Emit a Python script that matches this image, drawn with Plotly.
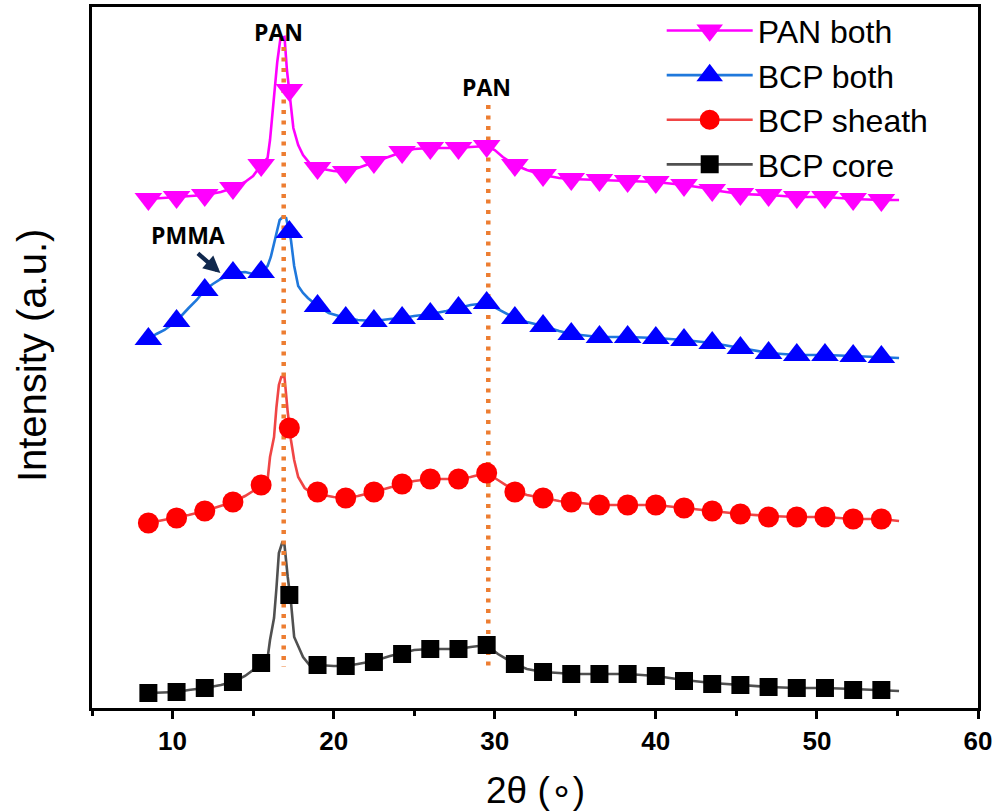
import plotly.graph_objects as go

# ---------------- data (2θ in degrees, intensity in arbitrary units) ----------------
marker_x = [8.5, 10.25, 12.0, 13.75, 15.5, 17.25, 19.0, 20.75, 22.5, 24.25, 26.0, 27.75,
            29.5, 31.25, 33.0, 34.75, 36.5, 38.25, 40.0, 41.75, 43.5, 45.25, 47.0, 48.75,
            50.5, 52.25, 54.0]

pan_both_x = [8.5, 9.5, 10.25, 11.0, 12.0, 13.0, 13.75, 14.5, 15.0, 15.5, 15.9, 16.05, 16.3,
              16.5, 16.7, 16.95, 17.1, 17.3, 17.5, 17.8, 18.1, 18.5, 19.0, 20.0, 20.75, 21.5,
              22.5, 23.5, 24.25, 25.0, 26.0, 27.0, 27.75, 28.5, 29.5, 30.0, 30.5, 31.25, 32.0,
              33.0, 34.0, 34.75, 36.5, 38.25, 40.0, 41.75, 43.0, 43.5, 45.25, 47.0, 48.75,
              50.5, 52.25, 54.0, 55.1]
pan_both_y = [509, 510, 511, 512, 513, 516, 520, 526, 532, 543, 550, 568, 613,
              646, 670, 671, 638, 608, 580, 563, 553, 545, 540, 537, 536, 540,
              546, 552, 556, 559, 560, 560, 560, 561, 562, 558, 551, 543, 538,
              533, 530, 529, 528, 527, 526, 523, 520, 518, 514, 513, 511,
              511, 509, 508, 508]
pan_both_mk = [509, 511, 513, 520, 543, 618, 540, 536, 546, 556, 560, 560, 562, 543, 533,
               529, 528, 527, 526, 523, 518, 514, 513, 511, 511, 509, 508]

bcp_both_x = [8.5, 9.0, 9.5, 10.25, 11.0, 11.5, 12.0, 12.5, 13.0, 13.75, 14.5, 15.0, 15.5,
              15.9, 16.1, 16.3, 16.5, 16.65, 16.85, 17.05, 17.35, 17.55, 17.8, 18.1, 18.4,
              19.0, 19.7, 20.75, 21.5, 22.5, 23.5, 24.25, 25.0, 26.0, 27.0, 27.75, 28.5,
              29.5, 30.2, 31.25, 32.0, 33.0, 34.0, 34.75, 36.5, 38.25, 40.0, 41.75, 43.5,
              45.25, 47.0, 48.75, 50.5, 52.25, 54.0, 55.1]
bcp_both_y = [369, 374, 378, 387, 400, 408, 418, 424, 429, 435, 436, 434, 436,
              442, 451, 465, 480, 488, 491, 490, 468, 442, 422, 415, 410,
              402, 395, 390, 388, 387, 389, 390, 392, 394, 397, 400, 403,
              405, 399, 390, 386, 382, 377, 374, 371, 371, 370, 368, 365,
              360, 355, 353, 353, 352, 351, 350]
bcp_both_mk = [369, 387, 418, 435, 436, 476, 402, 390, 387, 390, 394, 400, 405, 390, 382,
               374, 371, 371, 370, 368, 365, 360, 355, 353, 353, 352, 351]

bcp_sheath_x = [8.5, 9.5, 10.25, 11.0, 12.0, 13.0, 13.75, 14.5, 15.0, 15.5, 15.9, 16.05,
                16.3, 16.45, 16.6, 16.75, 16.95, 17.15, 17.35, 17.55, 17.8, 18.2, 18.8,
                19.0, 20.0, 20.75, 21.5, 22.5, 23.5, 24.25, 25.0, 26.0, 27.0, 27.75, 28.5,
                29.5, 30.2, 31.25, 32.0, 33.0, 34.0, 34.75, 36.5, 38.25, 40.0, 41.75, 43.5,
                45.25, 47.0, 48.75, 50.5, 52.25, 54.0, 55.1]
bcp_sheath_y = [185, 188, 190, 193, 197, 202, 206, 212, 217, 223, 228, 251,
                271, 301, 323, 331, 331, 296, 268, 248, 231, 220, 213,
                214, 211, 210, 212, 216, 221, 224, 227, 229, 229, 229, 231,
                235, 228, 217, 213, 210, 207, 206, 203, 203, 203, 200, 197,
                194, 192, 191, 191, 189, 189, 187]
bcp_sheath_mk = [185, 190, 197, 206, 223, 280, 216, 210, 216, 224, 229, 229, 235, 216, 210,
                 206, 203, 203, 203, 200, 197, 194, 191, 191, 191, 189, 189]

bcp_core_x = [8.5, 9.5, 10.25, 11.0, 12.0, 13.0, 13.75, 14.5, 15.0, 15.5, 15.9, 16.05,
              16.3, 16.45, 16.6, 16.8, 16.95, 17.15, 17.35, 17.55, 17.8, 18.1, 18.6,
              19.0, 20.0, 20.75, 21.5, 22.5, 23.5, 24.25, 25.0, 26.0, 27.0, 27.75, 28.5,
              29.5, 30.2, 31.25, 32.0, 33.0, 34.0, 34.75, 36.5, 38.25, 40.0, 41.75, 43.5,
              45.25, 47.0, 48.75, 50.5, 52.25, 54.0, 55.1]
bcp_core_y = [15, 16, 16, 18, 20, 23, 26, 32, 38, 45, 50, 68,
              90, 120, 155, 165, 163, 131, 106, 71, 61, 51, 41,
              43, 42, 42, 44, 47, 52, 55, 58, 59, 59, 59, 61,
              63, 54, 44, 39, 36, 35, 34, 34, 34, 32, 28, 25,
              23, 21, 20, 20, 19, 18, 17]
bcp_core_mk = [15, 16, 20, 26, 45, 113, 43, 42, 46, 54, 59, 59, 63, 44, 36,
               34, 34, 34, 32, 27, 24, 23, 21, 20, 20, 18, 18]

ref_line_x = [16.9, 29.6]          # PAN reflections
ref_line_top = [661, 603]
ref_line_bottom = [41, 41]

series_names = ["PAN both", "BCP both", "BCP sheath", "BCP core"]

# ---------------- styles ----------------
styles = {
    "PAN both":   dict(line="#FF00FF", marker="#FF00FF", symbol="triangle-down", size=24, lsize=16),
    "BCP both":   dict(line="#1F78DC", marker="#0000FF", symbol="triangle-up", size=24, lsize=16),
    "BCP sheath": dict(line="#F04545", marker="#FF0000", symbol="circle", size=21, lsize=16),
    "BCP core":   dict(line="#505050", marker="#000000", symbol="square", size=18, lsize=14),
}
lines = {
    "PAN both": (pan_both_x, pan_both_y, pan_both_mk),
    "BCP both": (bcp_both_x, bcp_both_y, bcp_both_mk),
    "BCP sheath": (bcp_sheath_x, bcp_sheath_y, bcp_sheath_mk),
    "BCP core": (bcp_core_x, bcp_core_y, bcp_core_mk),
}

fig = go.Figure()

# curves (lines)
for name in series_names:
    x, y, _ = lines[name]
    st = styles[name]
    fig.add_trace(go.Scatter(x=x, y=y, mode="lines", line=dict(color=st["line"], width=2.6),
                             showlegend=False, hoverinfo="skip"))

# dotted reference lines
for xv, yt, yb in zip(ref_line_x, ref_line_top, ref_line_bottom):
    fig.add_trace(go.Scatter(x=[xv, xv], y=[yt, yb], mode="lines",
                             line=dict(color="#ED7D31", width=4.5, dash="4px,6.5px"),
                             showlegend=False, hoverinfo="skip"))

# markers
for name in series_names:
    _, _, mk = lines[name]
    st = styles[name]
    fig.add_trace(go.Scatter(x=marker_x, y=mk, mode="markers",
                             marker=dict(color=st["marker"], symbol=st["symbol"], size=st["size"],
                                         line=dict(width=0)),
                             showlegend=False))

# legend entries
for name in series_names:
    st = styles[name]
    fig.add_trace(go.Scatter(x=[None], y=[None], mode="lines+markers", name=name,
                             line=dict(color=st["line"], width=2.6),
                             marker=dict(color=st["marker"], symbol=st["symbol"], size=st["lsize"],
                                         line=dict(color=st["marker"], width=4))))

ann_font = dict(family="Open Sans", size=23, color="black", weight="bold")
fig.add_annotation(x=16.57, y=676, text="PAN", showarrow=False, font=ann_font)
fig.add_annotation(x=29.52, y=621, text="PAN", showarrow=False, font=ann_font)
fig.add_annotation(x=10.93, y=473, text="PMMA", showarrow=False, font=ann_font)
fig.add_annotation(x=12.97, y=435, text="", showarrow=True, ax=-24, ay=-21,
                   arrowhead=2, arrowsize=0.8, arrowwidth=4.2, arrowcolor="#10284D")

# axis titles as annotations
fig.add_annotation(xref="paper", yref="paper", x=0.5, y=-0.117, text="2θ (∘)", showarrow=False,
                   font=dict(family="Liberation Sans", size=37, color="black"), yanchor="middle")
fig.add_annotation(xref="paper", yref="paper", x=-0.0677, y=0.502, text="Intensity (a.u.)",
                   showarrow=False, textangle=-90,
                   font=dict(family="Liberation Sans", size=40, color="black"), xanchor="center")

fig.update_layout(
    width=997, height=811,
    margin=dict(l=92, r=19, t=7, b=103, autoexpand=False),
    paper_bgcolor="white", plot_bgcolor="white",
    showlegend=True,
    legend=dict(x=0.643, y=0.996, yref="container", xanchor="left", yanchor="top",
                bgcolor="rgba(0,0,0,0)",
                font=dict(family="Liberation Sans", size=32, color="black"),
                itemwidth=86, tracegroupgap=0),
    xaxis=dict(range=[5, 60], dtick=10, tick0=0, ticks="outside", ticklen=8, tickwidth=2.5,
               tickcolor="black", showline=True, linewidth=2.5, linecolor="black", mirror=True,
               showgrid=False, zeroline=False,
               tickfont=dict(family="Liberation Sans", size=26, color="black", weight="bold"),
               minor=dict(dtick=5, ticks="outside", ticklen=5, tickwidth=2.5, tickcolor="black")),
    yaxis=dict(range=[0, 701], showticklabels=False, ticks="", showline=True, linewidth=2.5,
               linecolor="black", mirror=True, showgrid=False, zeroline=False),
)

fig.write_html("out.html")
